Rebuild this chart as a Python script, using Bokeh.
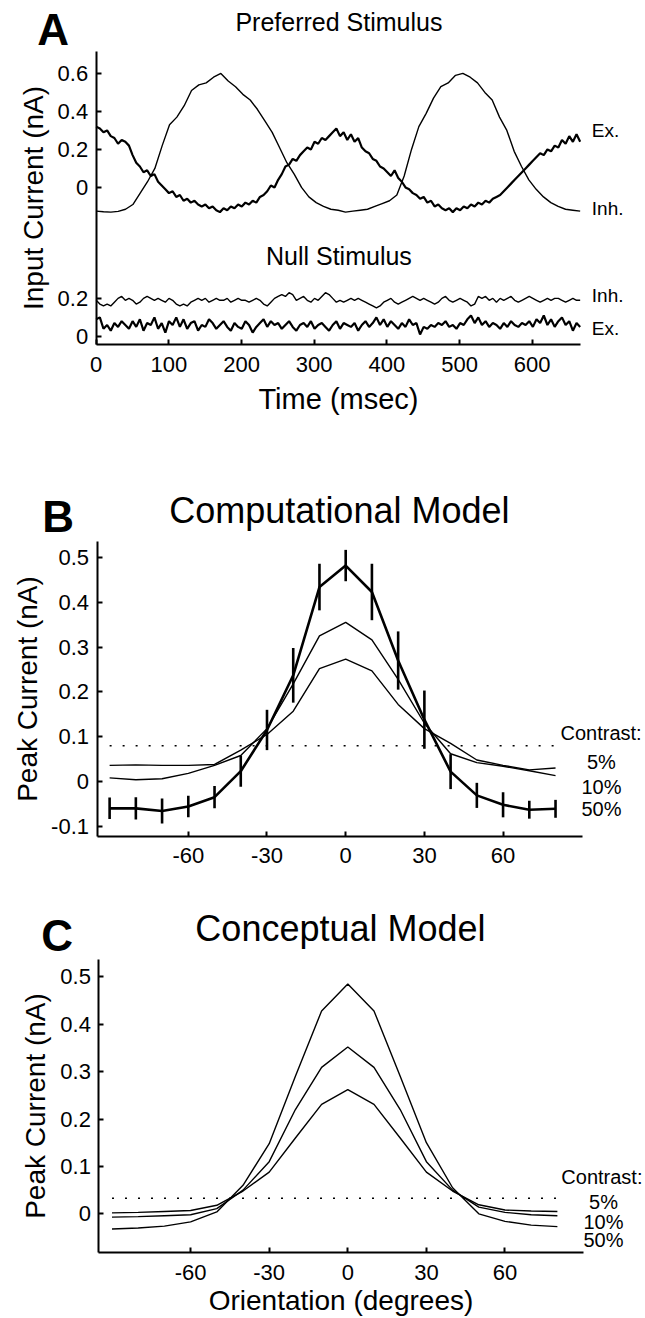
import numpy as np
from bokeh.plotting import figure
from bokeh.layouts import column
from bokeh.models import FixedTicker, Label, LinearAxis
from bokeh.embed import file_html
from bokeh.resources import INLINE

FONT = "Liberation Sans"

# ---------------- Panel A data (nA) ----------------
pref_ex = [0.32, 0.31, 0.29, 0.30, 0.27, 0.26, 0.23, 0.25, 0.24, 0.22, 0.17, 0.13, 0.11, 0.08, 0.09, 0.06,
           0.07, 0.03, 0.01, -0.01, -0.03, -0.02, -0.05, -0.04, -0.07, -0.06, -0.08, -0.07, -0.09, -0.10,
           -0.09, -0.11, -0.10, -0.12, -0.13, -0.11, -0.12, -0.10, -0.11, -0.09, -0.10, -0.08, -0.09, -0.07,
           -0.08, -0.05, -0.04, -0.02, 0.01, 0.00, 0.04, 0.07, 0.11, 0.12, 0.15, 0.14, 0.17, 0.19, 0.21,
           0.20, 0.24, 0.23, 0.26, 0.25, 0.27, 0.29, 0.31, 0.27, 0.29, 0.25, 0.28, 0.24, 0.26, 0.21, 0.19,
           0.18, 0.15, 0.14, 0.11, 0.10, 0.08, 0.06, 0.09, 0.05, 0.03, 0.00, -0.01, -0.03, -0.04, -0.06,
           -0.05, -0.08, -0.07, -0.10, -0.09, -0.11, -0.12, -0.11, -0.13, -0.11, -0.12, -0.10, -0.11, -0.09,
           -0.10, -0.08, -0.09, -0.07, -0.08, -0.06, -0.05, -0.04, -0.02, 0.00, 0.02, 0.04, 0.06, 0.08,
           0.10, 0.12, 0.14, 0.16, 0.18, 0.17, 0.20, 0.19, 0.22, 0.21, 0.25, 0.23, 0.27, 0.24, 0.28, 0.24]
pref_inh = [-0.125, -0.128, -0.130, -0.126, -0.115, -0.09, -0.03, 0.03, 0.10, 0.22, 0.33, 0.37, 0.43,
            0.51, 0.54, 0.55, 0.58, 0.60, 0.56, 0.53, 0.49, 0.46, 0.41, 0.35, 0.29, 0.21, 0.13, 0.07,
            0.00, -0.05, -0.08, -0.10, -0.115, -0.12, -0.13, -0.125, -0.12, -0.115, -0.10, -0.085, -0.07,
            -0.04, 0.06, 0.20, 0.32, 0.39, 0.47, 0.53, 0.55, 0.59, 0.60, 0.58, 0.55, 0.50, 0.46, 0.37,
            0.30, 0.19, 0.11, 0.04, -0.01, -0.05, -0.08, -0.10, -0.115, -0.12, -0.125]
null_ex = [0.09, 0.10, 0.04, 0.06, 0.03, 0.07, 0.05, 0.08, 0.06, 0.04, 0.08, 0.05, 0.09, 0.03, 0.07, 0.06,
           0.10, 0.04, 0.07, 0.02, 0.08, 0.06, 0.10, 0.05, 0.09, 0.04, 0.07, 0.08, 0.03, 0.06, 0.05, 0.09,
           0.07, 0.04, 0.06, 0.08, 0.05, 0.03, 0.07, 0.05, 0.04, 0.08, 0.06, 0.02, 0.05, 0.07, 0.09, 0.05,
           0.08, 0.06, 0.07, 0.04, 0.06, 0.08, 0.05, 0.03, 0.06, 0.07, 0.05, 0.08, 0.04, 0.06, 0.07, 0.05,
           0.03, 0.06, 0.08, 0.04, 0.07, 0.06, 0.05, 0.07, 0.03, 0.06, 0.08, 0.05, 0.07, 0.10, 0.06, 0.09,
           0.05, 0.08, 0.06, 0.04, 0.07, 0.05, 0.09, 0.06, 0.07, 0.01, 0.05, 0.04, 0.06, 0.05, 0.07, 0.06,
           0.08, 0.05, 0.06, 0.04, 0.07, 0.06, 0.09, 0.11, 0.07, 0.10, 0.06, 0.08, 0.05, 0.07, 0.06, 0.04,
           0.07, 0.05, 0.08, 0.06, 0.05, 0.07, 0.06, 0.08, 0.05, 0.09, 0.07, 0.11, 0.06, 0.09, 0.05, 0.08,
           0.10, 0.06, 0.08, 0.03, 0.07, 0.05]
null_inh = [0.19, 0.17, 0.16, 0.17, 0.16, 0.18, 0.20, 0.21, 0.19, 0.20, 0.19, 0.17, 0.18, 0.20, 0.21, 0.20,
            0.19, 0.20, 0.19, 0.18, 0.20, 0.19, 0.17, 0.16, 0.17, 0.16, 0.18, 0.19, 0.20, 0.19, 0.20, 0.18,
            0.19, 0.20, 0.19, 0.19, 0.20, 0.18, 0.19, 0.20, 0.19, 0.19, 0.18, 0.19, 0.20, 0.19, 0.17, 0.16,
            0.18, 0.20, 0.21, 0.22, 0.21, 0.23, 0.22, 0.19, 0.20, 0.21, 0.19, 0.18, 0.20, 0.19, 0.21, 0.23,
            0.22, 0.20, 0.18, 0.19, 0.18, 0.19, 0.20, 0.19, 0.20, 0.19, 0.18, 0.17, 0.16, 0.15, 0.16, 0.18,
            0.19, 0.20, 0.18, 0.17, 0.18, 0.19, 0.20, 0.21, 0.20, 0.19, 0.20, 0.19, 0.18, 0.17, 0.18, 0.20,
            0.21, 0.19, 0.18, 0.19, 0.20, 0.19, 0.18, 0.16, 0.17, 0.21, 0.20, 0.21, 0.19, 0.20, 0.18, 0.20,
            0.19, 0.20, 0.21, 0.19, 0.18, 0.19, 0.20, 0.21, 0.20, 0.19, 0.18, 0.19, 0.20, 0.19, 0.20, 0.20,
            0.19, 0.18, 0.19, 0.20, 0.19, 0.19]
t_end = 666
a_xticks = [0, 100, 200, 300, 400, 500, 600]
a_pref_yticks = [0.6, 0.4, 0.2, 0]
a_null_yticks = [0.2, 0]

# ---------------- Panels B and C data ----------------
angles = [-90, -80, -70, -60, -50, -40, -30, -20, -10, 0, 10, 20, 30, 40, 50, 60, 70, 80]
b_c50 = [-0.060, -0.060, -0.066, -0.056, -0.035, 0.023, 0.115, 0.237, 0.434, 0.482, 0.423, 0.270,
         0.138, 0.022, -0.031, -0.052, -0.063, -0.061]
b_c50_err = [0.024, 0.025, 0.028, 0.024, 0.025, 0.035, 0.045, 0.061, 0.052, 0.035, 0.063, 0.065,
             0.065, 0.039, 0.028, 0.028, 0.020, 0.020]
b_c10 = [0.008, 0.004, 0.006, 0.018, 0.036, 0.058, 0.118, 0.218, 0.325, 0.355, 0.316, 0.228, 0.130,
         0.062, 0.042, 0.034, 0.024, 0.013]
b_c5 = [0.036, 0.037, 0.036, 0.036, 0.038, 0.070, 0.105, 0.157, 0.252, 0.273, 0.247, 0.172, 0.118,
        0.085, 0.048, 0.036, 0.026, 0.030]
b_threshold = 0.08

c_c50 = [-0.032, -0.030, -0.026, -0.017, 0.004, 0.060, 0.148, 0.290, 0.428, 0.485, 0.428, 0.290, 0.150,
         0.055, 0.000, -0.016, -0.024, -0.027]
c_c10 = [-0.007, -0.006, -0.004, -0.002, 0.011, 0.050, 0.110, 0.220, 0.309, 0.352, 0.309, 0.220, 0.110,
         0.050, 0.014, 0.003, -0.002, -0.004]
c_c5 = [0.002, 0.003, 0.005, 0.007, 0.018, 0.048, 0.088, 0.160, 0.231, 0.262, 0.231, 0.160, 0.088,
        0.048, 0.019, 0.008, 0.006, 0.005]
c_threshold = 0.033

orient_ticks = [-60, -30, 0, 30, 60]
peak_yticks = [-0.1, 0, 0.1, 0.2, 0.3, 0.4, 0.5]
contrast_labels = ["5%", "10%", "50%"]


def fmt(v):
    return "0" if v == 0 else ("%g" % v)


def make_panel(width, height, xr, yr, xbounds, ybounds):
    p = figure(frame_width=width, frame_height=height, x_range=xr, y_range=yr,
               min_border_left=0, min_border_right=0, min_border_top=0, min_border_bottom=0,
               x_axis_location=None, y_axis_location=None,
               output_backend="svg", toolbar_location=None,
               background_fill_color="white", border_fill_color="white")
    p.outline_line_color = None
    p.add_layout(LinearAxis(fixed_location=ybounds[0], bounds=xbounds), "below")
    p.add_layout(LinearAxis(fixed_location=xbounds[0], bounds=ybounds), "left")
    for g in p.grid:
        g.visible = False
    return p


def style(p, xticks, yticks, ylabels=None, tick_size="22px"):
    for ax in (p.xaxis[0], p.yaxis[0]):
        ax.axis_line_width = 2
        ax.axis_line_color = "black"
        ax.major_tick_line_width = 2
        ax.major_tick_line_color = "black"
        ax.major_tick_in = 5
        ax.major_tick_out = 0
        ax.minor_tick_line_color = None
        ax.major_label_text_font = FONT
        ax.major_label_text_font_size = tick_size
        ax.major_label_text_color = "black"
        ax.axis_label_text_font = FONT
        ax.axis_label_text_font_style = "normal"
        ax.axis_label_text_color = "black"
    p.xaxis.ticker = FixedTicker(ticks=xticks)
    p.yaxis.ticker = FixedTicker(ticks=yticks)
    p.xaxis.major_label_overrides = {v: fmt(v) for v in xticks}
    if ylabels is None:
        ylabels = {v: fmt(v) for v in yticks}
    p.yaxis.major_label_overrides = ylabels


def lab(p, x, y, text, size, align="left", bold=False):
    p.add_layout(Label(x=x, y=y, text=text, text_font=FONT, text_font_size=size,
                       text_align=align, text_baseline="alphabetic",
                       text_font_style="bold" if bold else "normal", text_color="black"))


# ---------------- Panel A ----------------
null_offset = -0.784
pA = make_panel(645, 425, (-131.7, 755.9), (-1.253, 0.9838), (0, t_end), (-0.827, 0.717))
null_tick_pos = [round(v + null_offset, 4) for v in a_null_yticks]
ylab = {v: fmt(v) for v in a_pref_yticks}
for pos, v in zip(null_tick_pos, a_null_yticks):
    ylab[pos] = fmt(v)
style(pA, a_xticks, a_pref_yticks + null_tick_pos, ylab)
pA.xaxis.axis_label = "Time (msec)"
pA.xaxis.axis_label_text_font_size = "29px"
pA.xaxis.major_label_standoff = 12
pA.xaxis.axis_label_standoff = 8
pA.yaxis.axis_label = "Input Current (nA)"
pA.yaxis.axis_label_text_font_size = "28px"
pA.yaxis.major_label_standoff = 8
pA.yaxis.axis_label_standoff = 6

t_pe = np.linspace(0, t_end, len(pref_ex))
t_pi = np.linspace(0, t_end, len(pref_inh))
t_ne = np.linspace(0, t_end, len(null_ex))
t_ni = np.linspace(0, t_end, len(null_inh))
pA.line(t_pi, pref_inh, line_color="black", line_width=1.4)
pA.line(t_pe, pref_ex, line_color="black", line_width=2.2)
pA.line(t_ni, np.array(null_inh) + null_offset, line_color="black", line_width=1.4)
pA.line(t_ne, np.array(null_ex) + null_offset, line_color="black", line_width=2.2)

lab(pA, -81, 0.829, "A", "44px", bold=True)
lab(pA, 334, 0.873, "Preferred Stimulus", "25px", align="center")
lab(pA, 334, -0.363, "Null Stimulus", "25px", align="center")
lab(pA, 682, 0.301, "Ex.", "19px")
lab(pA, 682, -0.110, "Inh.", "19px")
lab(pA, 682, -0.568, "Inh.", "19px")
lab(pA, 682, -0.742, "Ex.", "19px")

# ---------------- Panel B ----------------
pB = make_panel(645, 455, (-131.6, 114.3), (-0.221, 0.7946), (-94.8, 90.1), (-0.122, 0.535))
style(pB, orient_ticks, peak_yticks)
pB.xaxis.major_label_standoff = 12
pB.yaxis.axis_label = "Peak Current (nA)"
pB.yaxis.axis_label_text_font_size = "28px"
pB.yaxis.major_label_standoff = 8
pB.yaxis.axis_label_standoff = 6

pB.line([angles[0], angles[-1]], [b_threshold, b_threshold], line_color="black", line_width=1.5,
        line_dash="2 11")
pB.line(angles, b_c5, line_color="black", line_width=1.4)
pB.line(angles, b_c10, line_color="black", line_width=1.4)
pB.line(angles, b_c50, line_color="black", line_width=2.6)
lo = [v - e for v, e in zip(b_c50, b_c50_err)]
hi = [v + e for v, e in zip(b_c50, b_c50_err)]
pB.segment(x0=angles, y0=lo, x1=angles, y1=hi, line_color="black", line_width=2.6)

lab(pB, -115.7, 0.5906, "B", "44px", bold=True)
lab(pB, -2.4, 0.605, "Computational Model", "36px", align="center")
lab(pB, 81.9, 0.1075, "Contrast:", "20px")
for txt, yy in zip(contrast_labels, [0.043, -0.013, -0.061]):
    lab(pB, 97.5, yy, txt, "20px", align="center")

# ---------------- Panel C ----------------
pC = make_panel(645, 438, (-132.56, 113.63), (-0.2209, 0.7032), (-95, 90), (-0.082, 0.537))
style(pC, orient_ticks, peak_yticks[1:])
pC.xaxis.axis_label = "Orientation (degrees)"
pC.xaxis.axis_label_text_font_size = "28px"
pC.xaxis.major_label_standoff = 12
pC.xaxis.axis_label_standoff = 2
pC.yaxis.axis_label = "Peak Current (nA)"
pC.yaxis.axis_label_text_font_size = "28px"
pC.yaxis.major_label_standoff = 8
pC.yaxis.axis_label_standoff = 6

pC.line([angles[0], angles[-1]], [c_threshold, c_threshold], line_color="black", line_width=1.5,
        line_dash="2 11")
for series in (c_c5, c_c10, c_c50):
    pC.line(angles, series, line_color="black", line_width=1.4)

lab(pC, -117, 0.588, "C", "44px", bold=True)
lab(pC, -2.8, 0.602, "Conceptual Model", "36px", align="center")
lab(pC, 81.5, 0.077, "Contrast:", "20px")
for txt, yy in zip(contrast_labels, [0.024, -0.018, -0.056]):
    lab(pC, 97.6, yy, txt, "20px", align="center")

layout = column(pA, pB, pC, spacing=0)
open("out.html", "w").write(file_html(layout, INLINE))
